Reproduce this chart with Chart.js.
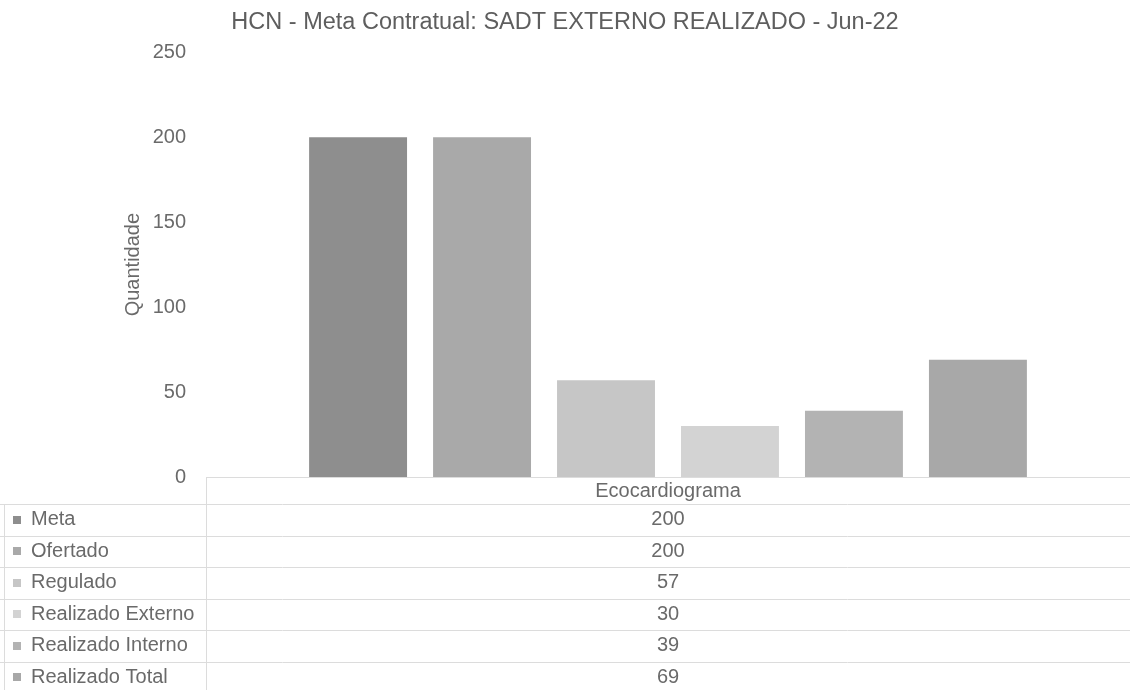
<!DOCTYPE html>
<html lang="pt">
<head>
<meta charset="utf-8">
<title>HCN - Meta Contratual</title>
<script src="https://cdn.jsdelivr.net/npm/chart.js@4"></script>
<style>
    body { margin: 0; background: #ffffff; }
    #wrap { width: 1130px; height: 690px; position: relative; }
</style>
</head>
<body>
<div id="wrap"><canvas id="sadtChart"></canvas></div>
<script>
// ----- data -----
const categories = ['Ecocardiograma'];
const meta = [200];
const ofertado = [200];
const regulado = [57];
const realizadoExterno = [30];
const realizadoInterno = [39];
const realizadoTotal = [69];
const yTicks = [0, 50, 100, 150, 200, 250];

const seriesNames = ['Meta', 'Ofertado', 'Regulado', 'Realizado Externo', 'Realizado Interno', 'Realizado Total'];
const seriesData = [meta, ofertado, regulado, realizadoExterno, realizadoInterno, realizadoTotal];
// grey tones of the scanned bars
const seriesColors = ['#8e8e8e', '#a9a9a9', '#c6c6c6', '#d3d3d3', '#b3b3b3', '#a8a8a8'];
// -----------------------------------------

const textColor = '#6a6a6a';
const fontFamily = "'Liberation Sans', Arial, sans-serif";
const rowHeight = 31.5;

// ----- data table under the plot (like the excel one) -----
const dataTablePlugin = {
    id: 'dataTable',
    afterDraw(chart) {
        const ctx = chart.ctx;
        const area = chart.chartArea;
        const xScale = chart.scales.x;
        const headerBottom = area.bottom + 27;
        const tableBottom = chart.height;

        ctx.save();
        ctx.strokeStyle = '#dcdcdc';
        ctx.lineWidth = 1;

        // header line (only right of the axis) + row lines
        ctx.beginPath();
        ctx.moveTo(area.left, area.bottom + 0.5);
        ctx.lineTo(chart.width, area.bottom + 0.5);
        for (let i = 0; i < seriesNames.length; i++) {
            const y = Math.round(headerBottom + i * rowHeight) + 0.5;
            ctx.moveTo(0, y);
            ctx.lineTo(chart.width, y);
        }
        // vertical separators
        ctx.moveTo(Math.round(area.left) + 0.5, area.bottom);
        ctx.lineTo(Math.round(area.left) + 0.5, tableBottom);
        ctx.moveTo(4.5, headerBottom);
        ctx.lineTo(4.5, tableBottom);
        ctx.stroke();

        // legend keys, names and values
        ctx.font = '20px ' + fontFamily;
        ctx.textBaseline = 'middle';
        chart.data.datasets.forEach((ds, i) => {
            const yMid = headerBottom + i * rowHeight + rowHeight / 2;
            ctx.fillStyle = ds.backgroundColor;
            ctx.fillRect(13, Math.round(yMid - 4), 8, 8);

            ctx.fillStyle = textColor;
            ctx.textAlign = 'left';
            ctx.fillText(ds.label, 31, yMid);

            ctx.textAlign = 'center';
            ds.data.forEach((v, j) => {
                ctx.fillText(String(v), xScale.getPixelForValue(j), yMid);
            });
        });
        ctx.restore();
    }
};

const datasets = seriesNames.map((name, i) => ({
    label: name,
    data: seriesData[i],
    backgroundColor: seriesColors[i],
    borderWidth: 0,
    categoryPercentage: 0.805,
    barPercentage: 0.79
}));

const ctx = document.getElementById('sadtChart').getContext('2d');
new Chart(ctx, {
    type: 'bar',
    data: {
        labels: categories,
        datasets: datasets
    },
    options: {
        responsive: true,
        maintainAspectRatio: false,
        animation: false,
        layout: { padding: 0 },
        plugins: {
            legend: { display: false },
            tooltip: { enabled: false },
            title: {
                display: true,
                text: 'HCN - Meta Contratual: SADT EXTERNO REALIZADO - Jun-22',
                color: '#5e5e5e',
                font: { family: fontFamily, size: 23.5, weight: 'normal', lineHeight: 1.2 },
                padding: { top: 8, bottom: 16 }
            }
        },
        scales: {
            x: {
                grid: { display: false, drawTicks: false },
                border: { display: false },
                ticks: {
                    color: textColor,
                    padding: 2,
                    font: { family: fontFamily, size: 20 }
                },
                // leave room for the data table
                afterFit(scale) { scale.height = 213; }
            },
            y: {
                min: yTicks[0],
                max: yTicks[yTicks.length - 1],
                grid: { display: false, drawTicks: false },
                border: { display: false },
                ticks: {
                    stepSize: yTicks[1] - yTicks[0],
                    color: textColor,
                    padding: 20,
                    font: { family: fontFamily, size: 20 }
                },
                title: {
                    display: true,
                    text: 'Quantidade',
                    color: textColor,
                    font: { family: fontFamily, size: 20 },
                    padding: { top: 121, bottom: 0 }
                },
                afterFit(scale) { scale.width = 206; }
            }
        }
    },
    plugins: [dataTablePlugin]
});
</script>
</body>
</html>
